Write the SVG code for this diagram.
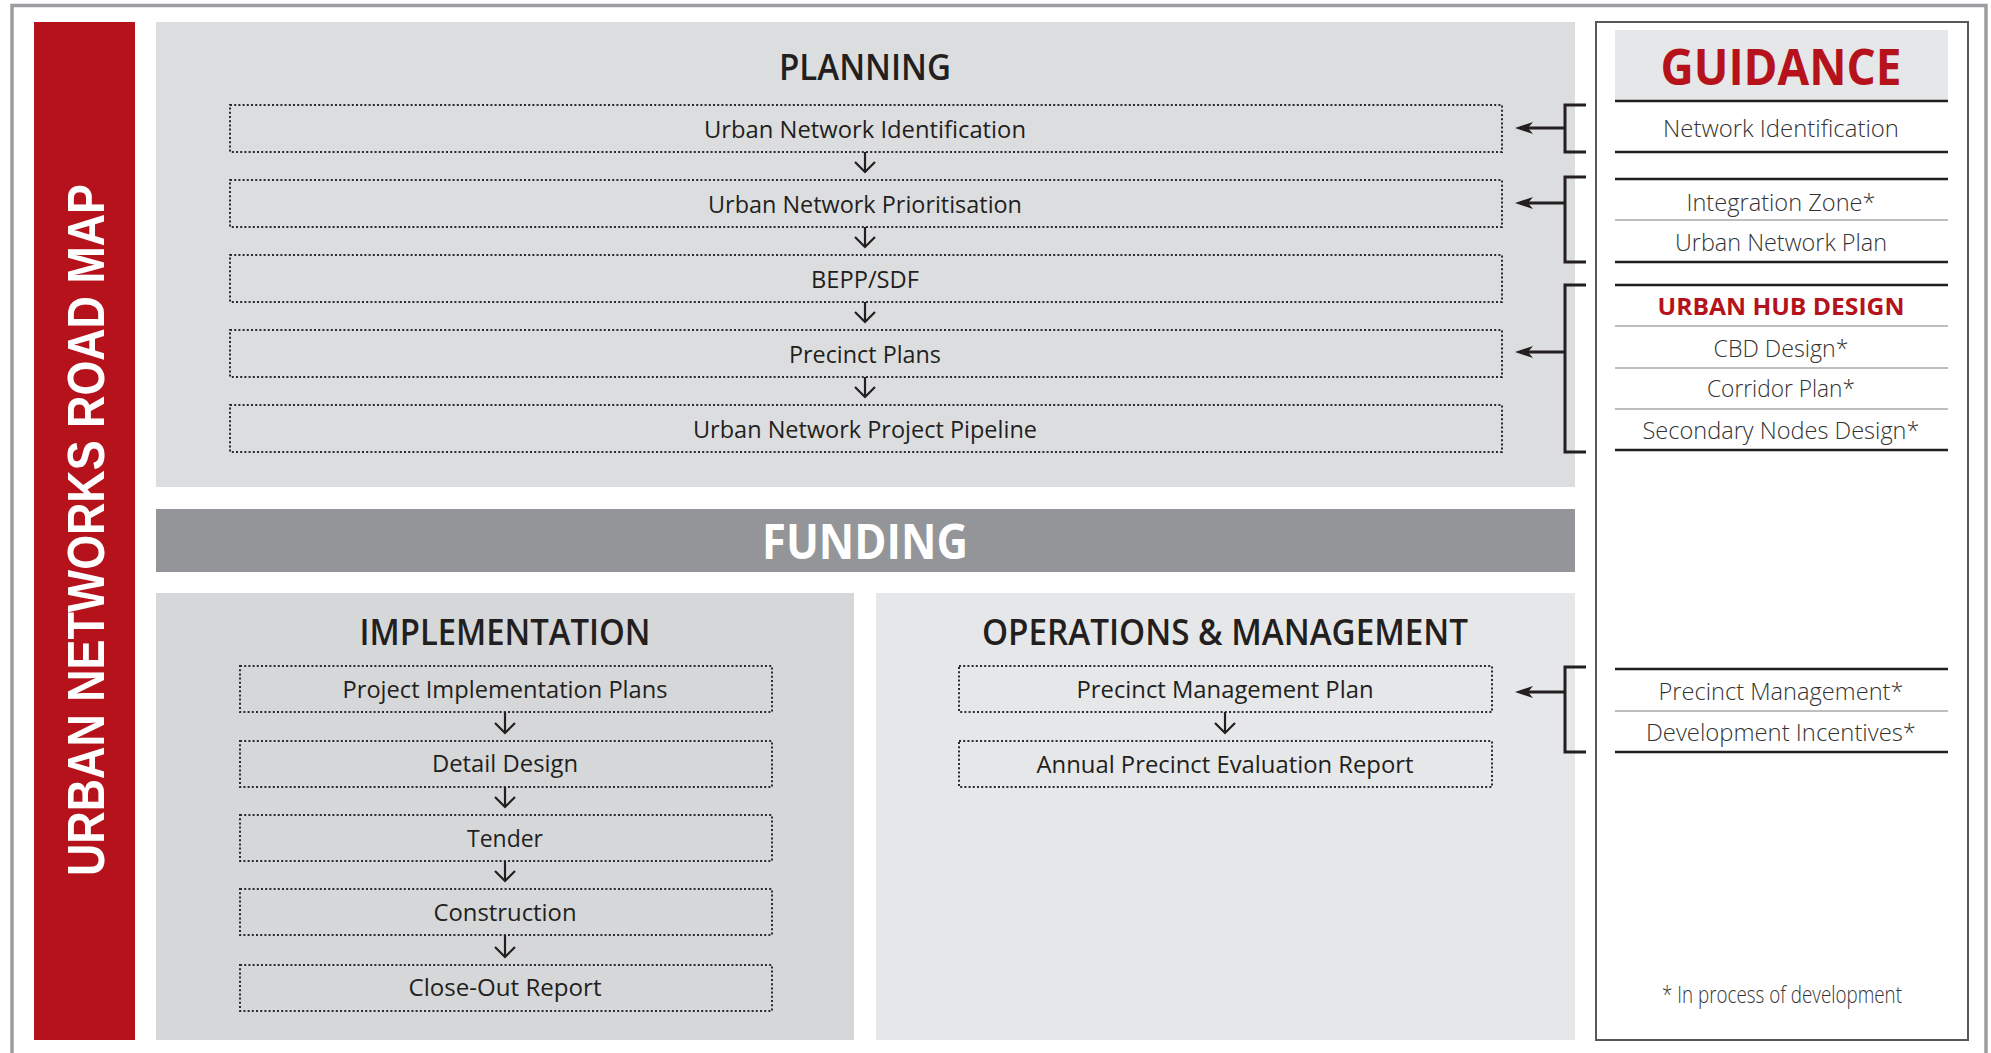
<svg xmlns="http://www.w3.org/2000/svg" width="1991" height="1053" viewBox="0 0 1991 1053">
<style>
.lbl{font-family:"Open Sans","Liberation Sans",sans-serif;font-size:23px;fill:#231f20;text-anchor:middle}
.hdr{font-family:"Open Sans","Liberation Sans",sans-serif;font-size:36px;font-weight:600;fill:#231f20;text-anchor:middle}
.gd{font-family:"Open Sans","Liberation Sans",sans-serif;font-size:23px;font-weight:300;fill:#333;text-anchor:middle}
.box{fill:none;stroke:#2b2b2b;stroke-width:2;stroke-dasharray:2 2.2}
.blk{stroke:#231f20;stroke-width:2.5}
.gry{stroke:#bcbec0;stroke-width:2}
.conn{stroke:#231f20;stroke-width:2.2;fill:none}
.side{stroke:#231f20;stroke-width:3;fill:none}
</style>
<defs>
<marker id="stealth" viewBox="0 0 18 12" refX="13" refY="6" markerWidth="18" markerHeight="12" markerUnits="userSpaceOnUse" orient="auto">
<path d="M0,0 L18,6 L0,12 L5,6 Z" fill="#231f20"/>
</marker>
<marker id="vee" viewBox="-1 -11 13 22" refX="10" refY="0" markerWidth="13" markerHeight="22" markerUnits="userSpaceOnUse" orient="auto">
<path d="M0,-10 L10,0 L0,10" fill="none" stroke="#231f20" stroke-width="2.2"/>
</marker>
</defs>
<rect x="0" y="0" width="1991" height="1053" fill="#fff"/>
<rect id="frame" x="12" y="5.5" width="1974" height="1070" fill="none" stroke="#9d9ea1" stroke-width="3.5"/>

<g id="title">
<rect x="34" y="22" width="101" height="1018" fill="#b5121b"/>
<text transform="translate(104,530) rotate(-90)" text-anchor="middle" font-family="Liberation Sans,Arial,sans-serif" font-weight="bold" font-size="52" fill="#fff" textLength="692" lengthAdjust="spacingAndGlyphs">URBAN NETWORKS ROAD MAP</text>
</g>

<g id="planning">
<rect x="156" y="22" width="1419" height="465" fill="#dcdddf"/>
<text class="hdr" x="865" y="80" textLength="172" lengthAdjust="spacingAndGlyphs">PLANNING</text>
</g>
<g id="p1"><rect class="box" x="230" y="105" width="1272" height="47"/><text class="lbl" x="865" y="137.5" textLength="322" lengthAdjust="spacingAndGlyphs">Urban Network Identification</text></g>
<g id="p2"><rect class="box" x="230" y="180" width="1272" height="47"/><text class="lbl" x="865" y="212.5" textLength="314" lengthAdjust="spacingAndGlyphs">Urban Network Prioritisation</text></g>
<g id="p3"><rect class="box" x="230" y="255" width="1272" height="47"/><text class="lbl" x="865" y="287.5" textLength="108" lengthAdjust="spacingAndGlyphs">BEPP/SDF</text></g>
<g id="p4"><rect class="box" x="230" y="330" width="1272" height="47"/><text class="lbl" x="865" y="362.5" textLength="152" lengthAdjust="spacingAndGlyphs">Precinct Plans</text></g>
<g id="p5"><rect class="box" x="230" y="405" width="1272" height="47"/><text class="lbl" x="865" y="437.5" textLength="344" lengthAdjust="spacingAndGlyphs">Urban Network Project Pipeline</text></g>

<g id="funding">
<rect x="156" y="509" width="1419" height="63" fill="#939598"/>
<text x="865" y="559" text-anchor="middle" font-family="Open Sans,Liberation Sans,sans-serif" font-weight="bold" font-size="48" fill="#fff" textLength="206" lengthAdjust="spacingAndGlyphs">FUNDING</text>
</g>

<g id="implementation">
<rect x="156" y="593" width="698" height="447" fill="#d6d7d9"/>
<text class="hdr" x="505" y="645" textLength="291" lengthAdjust="spacingAndGlyphs">IMPLEMENTATION</text>
</g>
<g id="i1"><rect class="box" x="240" y="666" width="532" height="46"/><text class="lbl" x="505" y="697.5" textLength="325" lengthAdjust="spacingAndGlyphs">Project Implementation Plans</text></g>
<g id="i2"><rect class="box" x="240" y="741" width="532" height="46"/><text class="lbl" x="505" y="772" textLength="146" lengthAdjust="spacingAndGlyphs">Detail Design</text></g>
<g id="i3"><rect class="box" x="240" y="815" width="532" height="46"/><text class="lbl" x="505" y="846.5" textLength="76" lengthAdjust="spacingAndGlyphs">Tender</text></g>
<g id="i4"><rect class="box" x="240" y="889" width="532" height="46"/><text class="lbl" x="505" y="921" textLength="143" lengthAdjust="spacingAndGlyphs">Construction</text></g>
<g id="i5"><rect class="box" x="240" y="965" width="532" height="46"/><text class="lbl" x="505" y="996" textLength="193" lengthAdjust="spacingAndGlyphs">Close-Out Report</text></g>

<g id="operations">
<rect x="876" y="593" width="699" height="447" fill="#e6e7e8"/>
<text class="hdr" x="1225" y="645" textLength="486" lengthAdjust="spacingAndGlyphs">OPERATIONS &amp; MANAGEMENT</text>
</g>
<g id="o1"><rect class="box" x="959" y="666" width="533" height="46"/><text class="lbl" x="1225" y="697.5" textLength="297" lengthAdjust="spacingAndGlyphs">Precinct Management Plan</text></g>
<g id="o2"><rect class="box" x="959" y="741" width="533" height="46"/><text class="lbl" x="1225" y="773" textLength="377" lengthAdjust="spacingAndGlyphs">Annual Precinct Evaluation Report</text></g>

<g id="guidance">
<rect x="1596" y="22" width="372" height="1018" fill="#fff" stroke="#58595b" stroke-width="2"/>
<rect x="1615" y="30" width="333" height="70" fill="#e6e7e8"/>
<text x="1781" y="85" text-anchor="middle" font-family="Open Sans,Liberation Sans,sans-serif" font-weight="bold" font-size="50" fill="#b5121b" textLength="241" lengthAdjust="spacingAndGlyphs">GUIDANCE</text>
<line class="blk" x1="1615" y1="101" x2="1948" y2="101"/>
<line class="blk" x1="1615" y1="152" x2="1948" y2="152"/>
<line class="blk" x1="1615" y1="179" x2="1948" y2="179"/>
<line class="gry" x1="1615" y1="220" x2="1948" y2="220"/>
<line class="blk" x1="1615" y1="262" x2="1948" y2="262"/>
<line class="blk" x1="1615" y1="285" x2="1948" y2="285"/>
<line class="gry" x1="1615" y1="326" x2="1948" y2="326"/>
<line class="gry" x1="1615" y1="368" x2="1948" y2="368"/>
<line class="gry" x1="1615" y1="409" x2="1948" y2="409"/>
<line class="blk" x1="1615" y1="450" x2="1948" y2="450"/>
<line class="blk" x1="1615" y1="669" x2="1948" y2="669"/>
<line class="gry" x1="1615" y1="711" x2="1948" y2="711"/>
<line class="blk" x1="1615" y1="752" x2="1948" y2="752"/>
</g>
<g id="g-network-identification"><text class="gd" x="1781" y="137" textLength="236" lengthAdjust="spacingAndGlyphs">Network Identification</text></g>
<g id="g-integration-zone"><text class="gd" x="1781" y="211" textLength="189" lengthAdjust="spacingAndGlyphs">Integration Zone*</text></g>
<g id="g-urban-network-plan"><text class="gd" x="1781" y="251" textLength="212" lengthAdjust="spacingAndGlyphs">Urban Network Plan</text></g>
<g id="g-urban-hub-design"><text x="1781" y="315" text-anchor="middle" font-family="Open Sans,Liberation Sans,sans-serif" font-weight="bold" font-size="23" fill="#b5121b" textLength="247" lengthAdjust="spacingAndGlyphs">URBAN HUB DESIGN</text></g>
<g id="g-cbd-design"><text class="gd" x="1781" y="357" textLength="135" lengthAdjust="spacingAndGlyphs">CBD Design*</text></g>
<g id="g-corridor-plan"><text class="gd" x="1781" y="397" textLength="148" lengthAdjust="spacingAndGlyphs">Corridor Plan*</text></g>
<g id="g-secondary-nodes"><text class="gd" x="1781" y="439" textLength="277" lengthAdjust="spacingAndGlyphs">Secondary Nodes Design*</text></g>
<g id="g-precinct-management"><text class="gd" x="1781" y="700" textLength="245" lengthAdjust="spacingAndGlyphs">Precinct Management*</text></g>
<g id="g-development-incentives"><text class="gd" x="1781" y="741" textLength="270" lengthAdjust="spacingAndGlyphs">Development Incentives*</text></g>
<g id="g-note"><text class="gd" x="1782" y="1003" font-size="20" textLength="240" lengthAdjust="spacingAndGlyphs">* In process of development</text></g>

<g id="connectors">
<line class="conn" x1="865" y1="152" x2="865" y2="172" marker-end="url(#vee)"/>
<line class="conn" x1="865" y1="227" x2="865" y2="247" marker-end="url(#vee)"/>
<line class="conn" x1="865" y1="302" x2="865" y2="322" marker-end="url(#vee)"/>
<line class="conn" x1="865" y1="377" x2="865" y2="397" marker-end="url(#vee)"/>
<line class="conn" x1="505" y1="712" x2="505" y2="733" marker-end="url(#vee)"/>
<line class="conn" x1="505" y1="787" x2="505" y2="807" marker-end="url(#vee)"/>
<line class="conn" x1="505" y1="861" x2="505" y2="881" marker-end="url(#vee)"/>
<line class="conn" x1="505" y1="935" x2="505" y2="957" marker-end="url(#vee)"/>
<line class="conn" x1="1225" y1="712" x2="1225" y2="733" marker-end="url(#vee)"/>
<path class="side" d="M1586,105 H1565 V152 H1586"/>
<line class="side" x1="1565" y1="128" x2="1520" y2="128" marker-end="url(#stealth)"/>
<path class="side" d="M1586,177 H1565 V262 H1586"/>
<line class="side" x1="1565" y1="203" x2="1520" y2="203" marker-end="url(#stealth)"/>
<path class="side" d="M1586,285 H1565 V452 H1586"/>
<line class="side" x1="1565" y1="352" x2="1520" y2="352" marker-end="url(#stealth)"/>
<path class="side" d="M1586,667 H1565 V752 H1586"/>
<line class="side" x1="1565" y1="692" x2="1520" y2="692" marker-end="url(#stealth)"/>
</g>
</svg>
